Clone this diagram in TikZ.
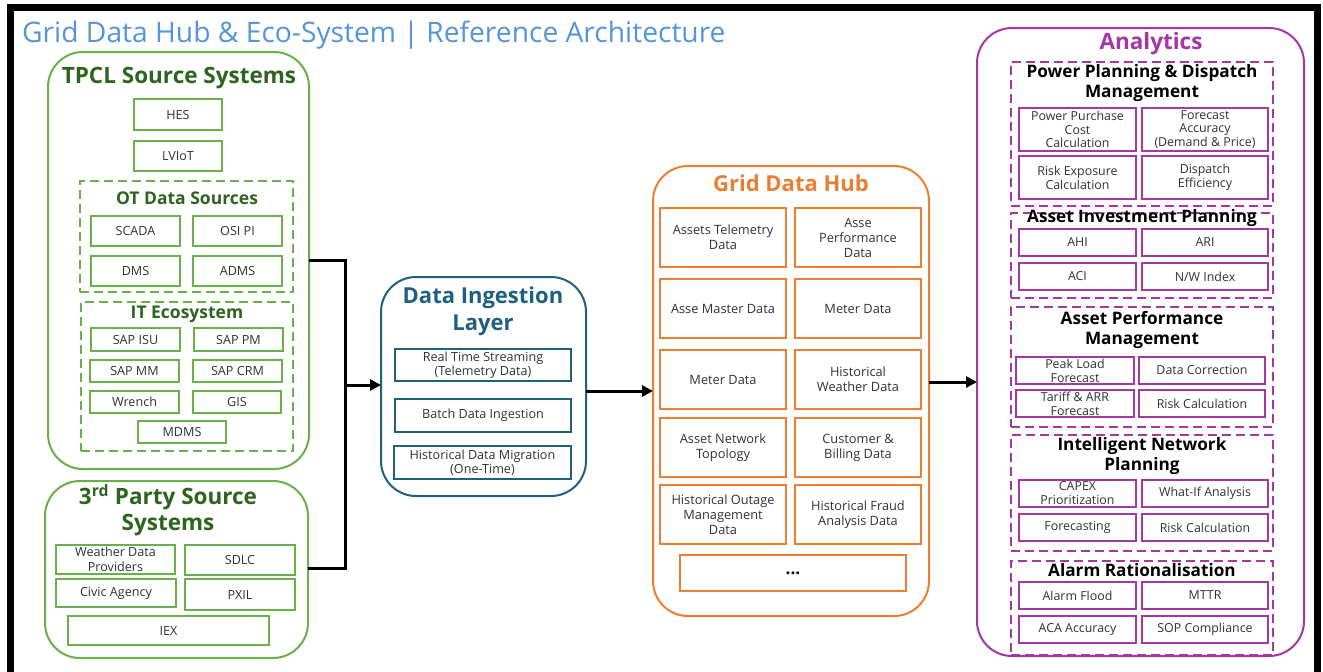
\documentclass[tikz,border=0pt]{standalone}
\usepackage{fontspec}
\setmainfont{Open Sans}
\usetikzlibrary{arrows.meta}
\definecolor{gr}{RGB}{104,177,72}
\definecolor{dgr}{RGB}{45,100,30}
\definecolor{blu}{RGB}{31,96,128}
\definecolor{orng}{RGB}{237,125,49}
\definecolor{purp}{RGB}{165,55,165}
\definecolor{tblue}{RGB}{84,150,215}
\definecolor{txt}{RGB}{50,50,50}
\newcommand\bx[7]{\node[#1, minimum width={(#4-#2)*1pt}, minimum height={(#5-#3)*1pt}] (#7) at ({(#2+#4)/2},{(#3+#5)/2}) {#6};}
\tikzset{
  base/.style={draw, line width=2pt, inner sep=0pt, outer sep=0pt, align=center, text=txt, font=\fontsize{12.6}{14.5}\selectfont},
  gbox/.style={base, draw=gr},
  bbox/.style={base, draw=blu},
  obox/.style={base, draw=orng, font=\fontsize{12.8}{15}\selectfont},
  pbox/.style={base, draw=purp, font=\fontsize{12.4}{14.3}\selectfont},
  cont/.style={draw, line width=2pt, rounded corners=35pt, inner sep=0pt, outer sep=0pt},
  dsec/.style={draw, line width=2pt, dash pattern=on 9pt off 5pt, inner sep=0pt, outer sep=0pt},
  ghead/.style={text=dgr, font=\fontsize{22.5}{26}\selectfont\bfseries, align=center, inner sep=0pt},
  gsub/.style={text=dgr, font=\fontsize{17.5}{20}\selectfont\bfseries, align=center, inner sep=0pt},
  phead/.style={text=black, font=\fontsize{17.2}{20.5}\selectfont\bfseries, align=center, inner sep=0pt},
  conn/.style={line width=3pt, black},
  arr/.style={conn, -{Triangle[length=11pt,width=11pt]}}
}
\begin{document}
\begin{tikzpicture}[x=1pt,y=-1pt]
\useasboundingbox (0,0) rectangle (1323,672);
\clip (0,0) rectangle (1323,672);
\fill[white] (0,0) rectangle (1323,672);
\draw[line width=7pt] (10,7) rectangle (1317,700);
\node[anchor=west, text=tblue, font=\fontsize{28.2}{32}\selectfont, inner sep=0pt] (title) at (22,35) {Grid Data Hub \& Eco-System | Reference Architecture};
% TPCL
\bx{cont,draw=gr}{48}{52}{309}{469}{}{tpcl}
\node[ghead] (tpclh) at (179,78) {TPCL Source Systems};
\bx{gbox}{134}{99}{222}{130}{HES}{hes}
\bx{gbox}{134}{141}{222}{171}{LVIoT}{lviot}
\bx{dsec,draw=gr}{80}{181}{293}{292}{}{ot}
\node[gsub] (oth) at (187,198) {OT Data Sources};
\bx{gbox}{91}{216}{180}{246}{SCADA}{scada}
\bx{gbox}{193}{216}{282}{246}{OSI PI}{osipi}
\bx{gbox}{91}{256}{180}{286}{DMS}{dms}
\bx{gbox}{193}{256}{282}{286}{ADMS}{adms}
\bx{dsec,draw=gr}{81}{302}{293}{451}{}{it}
\node[gsub] (ith) at (187,314) {IT Ecosystem};
\bx{gbox}{91}{328}{180}{351}{SAP ISU}{sapisu}
\bx{gbox}{194}{328}{283}{351}{SAP PM}{sappm}
\bx{gbox}{90}{360}{179}{382}{SAP MM}{sapmm}
\bx{gbox}{193}{360}{282}{382}{SAP CRM}{sapcrm}
\bx{gbox}{90}{391}{179}{413}{Wrench}{wrench}
\bx{gbox}{193}{391}{281}{413}{GIS}{gis}
\bx{gbox}{138}{421}{226}{443}{MDMS}{mdms}
% 3rd party
\bx{cont,draw=gr}{45}{481}{308}{658}{}{third}
\node[ghead] (thirdh) at (168,510) {3\textsuperscript{rd} Party Source\\Systems};
\bx{gbox}{56}{545}{175}{574}{Weather Data\\Providers}{weather}
\bx{gbox}{185}{545}{295}{575}{SDLC}{sdlc}
\bx{gbox}{56}{579}{176}{607}{Civic Agency}{civic}
\bx{gbox}{185}{579}{295}{610}{PXIL}{pxil}
\bx{gbox}{68}{616}{269}{645}{IEX}{iex}
% Data ingestion
\bx{cont,draw=blu}{381}{277}{586}{496}{}{dil}
\node[text=blu, font=\fontsize{22}{27}\selectfont\bfseries, align=center, inner sep=0pt] (dilh) at (483,311) {Data Ingestion\\Layer};
\bx{bbox}{395}{349}{571}{381}{Real Time Streaming\\(Telemetry Data)}{rts}
\bx{bbox}{395}{399}{571}{432}{Batch Data Ingestion}{batch}
\bx{bbox}{394}{446}{571}{479}{Historical Data Migration\\(One-Time)}{hdm}
% Grid Data Hub
\bx{cont,draw=orng}{653}{166}{929}{616}{}{gdh}
\node[text=orng, font=\fontsize{22}{26}\selectfont\bfseries, inner sep=0pt] (gdhh) at (791,183) {Grid Data Hub};
\bx{obox}{660}{208}{786}{267}{Assets Telemetry\\Data}{g11}
\bx{obox}{795}{208}{921}{267}{Asse\\Performance\\Data}{g12}
\bx{obox}{660}{279}{786}{338}{Asse Master Data}{g21}
\bx{obox}{795}{279}{921}{338}{Meter Data}{g22}
\bx{obox}{660}{350}{786}{409}{Meter Data}{g31}
\bx{obox}{795}{350}{921}{409}{Historical\\Weather Data}{g32}
\bx{obox}{660}{418}{786}{477}{Asset Network\\Topology}{g41}
\bx{obox}{795}{418}{921}{477}{Customer \&\\Billing Data}{g42}
\bx{obox}{660}{485}{786}{544}{Historical Outage\\Management\\Data}{g51}
\bx{obox}{795}{485}{921}{544}{Historical Fraud\\Analysis Data}{g52}
\bx{obox,text=black,font=\fontsize{17}{18}\selectfont\bfseries}{680}{555}{906}{591}{...}{gmore}
% Analytics
\bx{cont,draw=purp}{977}{28}{1304}{656}{}{ana}
\node[text=purp, font=\fontsize{22.5}{26}\selectfont\bfseries, inner sep=0pt] (anah) at (1151,44) {Analytics};
\bx{dsec,draw=purp}{1011}{62}{1273}{206}{}{ppdm}
\node[phead] (ppdmh) at (1142,83) {Power Planning \& Dispatch\\Management};
\bx{pbox,font=\fontsize{12.4}{13.8}\selectfont}{1019}{108}{1136}{151}{Power Purchase\\Cost\\Calculation}{a11}
\bx{pbox,font=\fontsize{12.4}{13.8}\selectfont}{1142}{108}{1268}{151}{Forecast\\Accuracy\\(Demand \& Price)}{a12}
\bx{pbox}{1019}{156}{1136}{199}{Risk Exposure\\Calculation}{a13}
\bx{pbox}{1142}{156}{1268}{199}{Dispatch\\Efficiency}{a14}
\bx{dsec,draw=purp}{1011}{213}{1273}{298}{}{aip}
\node[phead] (aiph) at (1142,218) {Asset Investment Planning};
\bx{pbox}{1019}{229}{1136}{256}{AHI}{a21}
\bx{pbox}{1142}{229}{1268}{256}{ARI}{a22}
\bx{pbox}{1019}{263}{1136}{290}{ACI}{a23}
\bx{pbox}{1142}{263}{1268}{290}{N/W Index}{a24}
\bx{dsec,draw=purp}{1011}{307}{1273}{427}{}{apm}
\node[phead] (apmh) at (1142,330) {Asset Performance\\Management};
\bx{pbox,font=\fontsize{12.4}{14}\selectfont}{1016}{357}{1134}{384}{Peak Load\\Forecast}{a31}
\bx{pbox}{1139}{357}{1265}{384}{Data Correction}{a32}
\bx{pbox,font=\fontsize{12.4}{14}\selectfont}{1016}{390}{1134}{417}{Tariff \& ARR\\Forecast}{a33}
\bx{pbox}{1139}{390}{1265}{417}{Risk Calculation}{a34}
\bx{dsec,draw=purp}{1011}{435}{1273}{551}{}{inp}
\node[phead] (inph) at (1142,456) {Intelligent Network\\Planning};
\bx{pbox,font=\fontsize{12.4}{14}\selectfont}{1019}{480}{1136}{507}{CAPEX\\Prioritization}{a41}
\bx{pbox}{1142}{480}{1268}{507}{What-If Analysis}{a42}
\bx{pbox}{1019}{514}{1136}{541}{Forecasting}{a43}
\bx{pbox}{1142}{514}{1268}{541}{Risk Calculation}{a44}
\bx{dsec,draw=purp}{1011}{561}{1273}{655}{}{ar}
\node[phead] (arh) at (1142,570) {Alarm Rationalisation};
\bx{pbox}{1019}{582}{1136}{609}{Alarm Flood}{a51}
\bx{pbox}{1142}{582}{1268}{609}{MTTR}{a52}
\bx{pbox}{1019}{616}{1136}{643}{ACA Accuracy}{a53}
\bx{pbox}{1142}{616}{1268}{643}{SOP Compliance}{a54}
% connectors
\coordinate (jt) at (345,260);
\coordinate (jb) at (345,568);
\coordinate (jm) at (345,385);
\coordinate (ya) at (0,382);
\draw[conn] (tpcl.east |- jt) -- (jt) -- (jb) -- (third.east |- jb);
\draw[arr] (jm) -- (dil.west |- jm);
\draw[arr] (gdh.west -| dil.east) -- (gdh.west);
\draw[arr] (gdh.east |- ya) -- (ana.west |- ya);
\end{tikzpicture}
\end{document}
